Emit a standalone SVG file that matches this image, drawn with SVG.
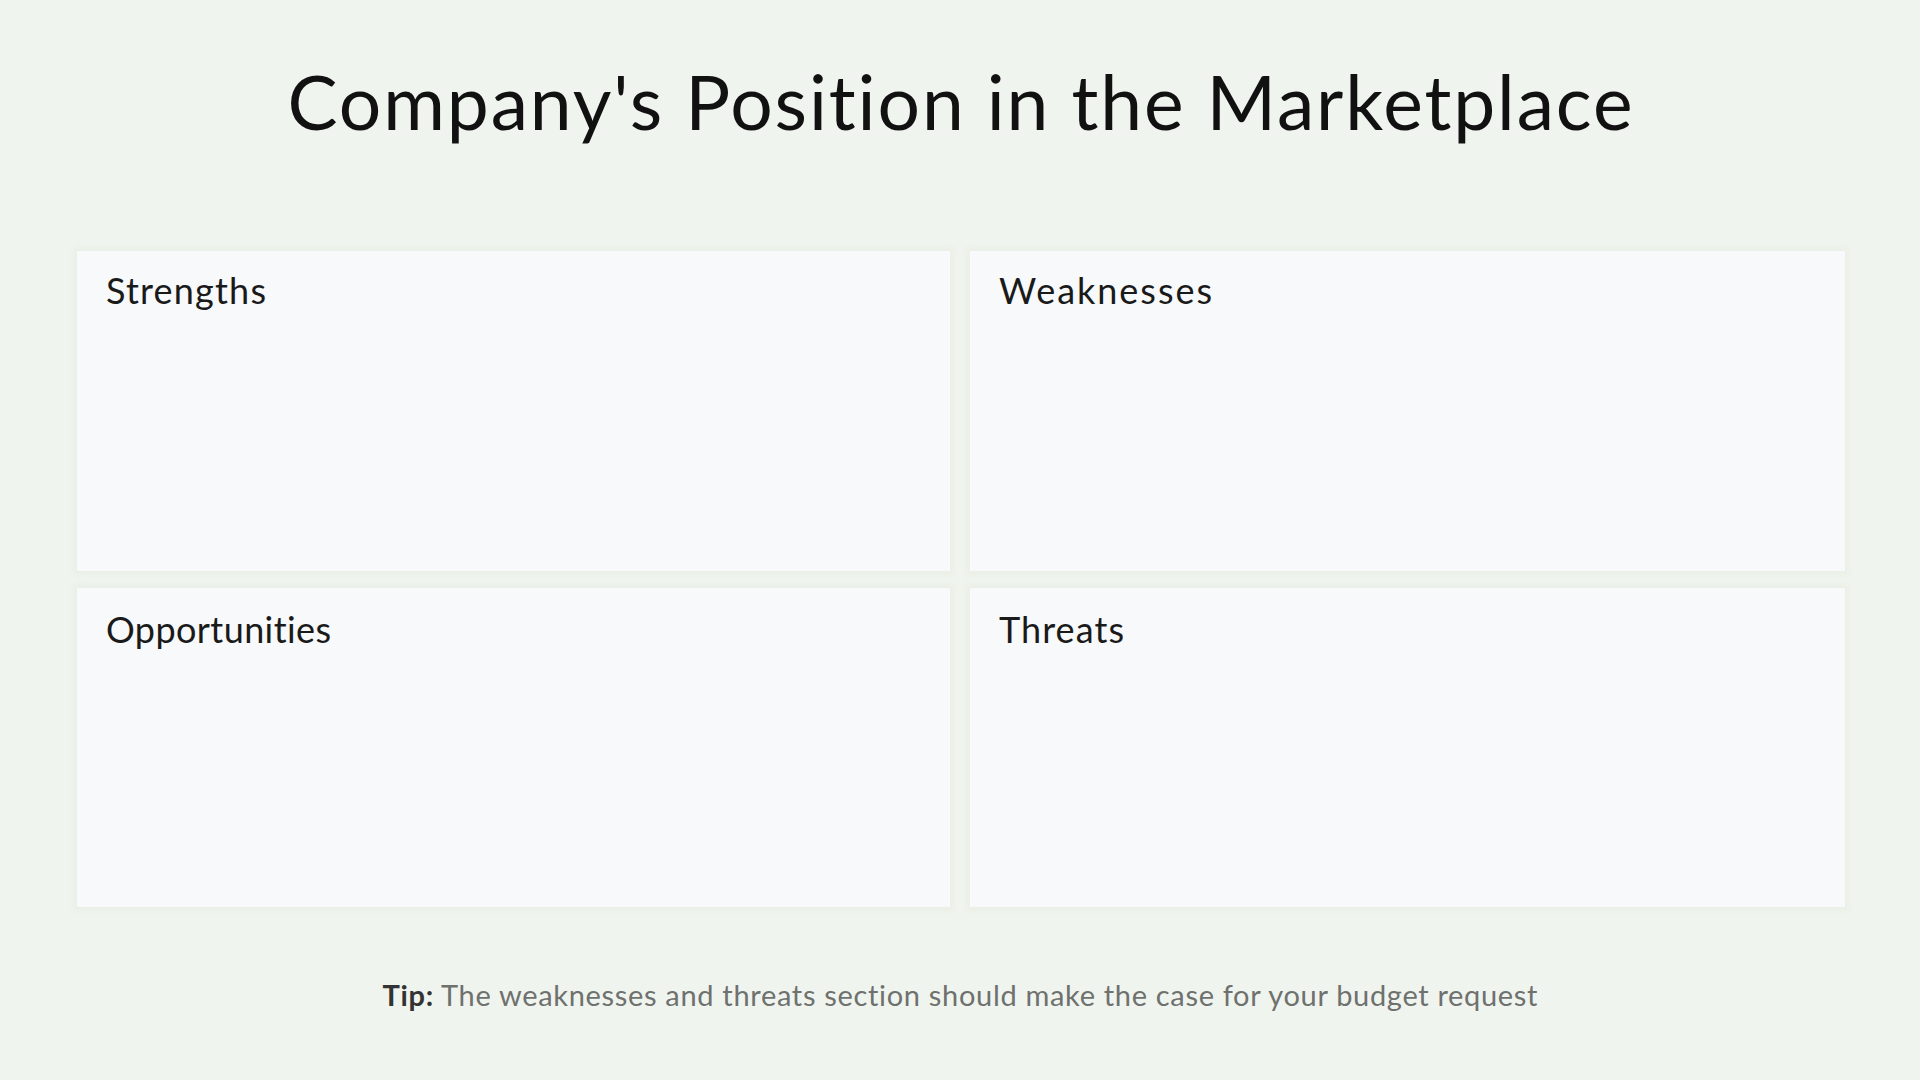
<svg xmlns="http://www.w3.org/2000/svg" width="1920" height="1080" viewBox="0 0 1920 1080">
<defs>
<filter id="soft" x="-5%" y="-5%" width="110%" height="110%">
<feGaussianBlur stdDeviation="3"/>
</filter>
<style>
.bg{fill:#f0f4ef}
.edge{fill:#e9efe6;filter:url(#soft)}
.box{fill:#f7f9fa}
text{font-variant-ligatures:none;font-feature-settings:"liga" 0}
.title{font-family:Lato,"Open Sans","Liberation Sans",sans-serif;font-size:75px;fill:#111111;text-anchor:middle}
.lbl{font-family:Lato,"Open Sans","Liberation Sans",sans-serif;font-size:36px;fill:#1a1a1a}
.tip{font-family:Lato,"Open Sans","Liberation Sans",sans-serif;font-size:29px;fill:#6e716d;text-anchor:middle}
.tipb{font-weight:bold;fill:#333333}
</style>
</defs>
<rect class="bg" x="0" y="0" width="1920" height="1080"/>
<g id="title"><text class="title" x="960" y="130" textLength="1345" lengthAdjust="spacing">Company's Position in the Marketplace</text></g>
<g id="strengths">
<rect class="edge" x="73" y="247" width="881" height="328"/>
<rect class="box" x="77" y="251" width="873" height="320"/>
<text class="lbl" x="106" y="304" textLength="160" lengthAdjust="spacing">Strengths</text>
</g>
<g id="weaknesses">
<rect class="edge" x="966" y="247" width="883" height="328"/>
<rect class="box" x="970" y="251" width="875" height="320"/>
<text class="lbl" x="999" y="304" textLength="213" lengthAdjust="spacing">Weaknesses</text>
</g>
<g id="opportunities">
<rect class="edge" x="73" y="584" width="881" height="327"/>
<rect class="box" x="77" y="588" width="873" height="319"/>
<text class="lbl" x="106" y="643" textLength="225" lengthAdjust="spacing">Opportunities</text>
</g>
<g id="threats">
<rect class="edge" x="966" y="584" width="883" height="327"/>
<rect class="box" x="970" y="588" width="875" height="319"/>
<text class="lbl" x="999" y="643" textLength="125" lengthAdjust="spacing">Threats</text>
</g>
<g id="connectors"></g>
<g id="tip"><text class="tip" x="960" y="1006" textLength="1155" lengthAdjust="spacing"><tspan class="tipb">Tip:</tspan> The weaknesses and threats section should make the case for your budget request</text></g>
</svg>
